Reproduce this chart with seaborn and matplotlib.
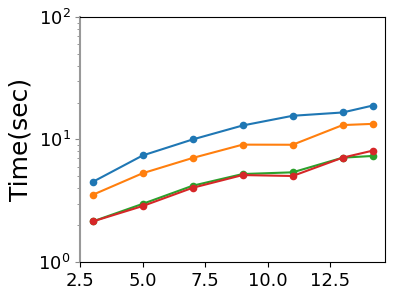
import pandas as pd
import numpy as np
import matplotlib
matplotlib.use('Agg')
import matplotlib.pyplot as plt
import seaborn as sns

# values (log scale)
x_vals = [3, 5, 7, 9, 11, 13, 14.2]
series_a = [4.5, 7.4, 10.0, 13.0, 15.6, 16.6, 18.9]
series_b = [3.53, 5.3, 7.06, 9.07, 9.05, 13.1, 13.4]
series_c = [2.14, 2.98, 4.19, 5.22, 5.39, 7.1, 7.33]
series_d = [2.14, 2.86, 4.03, 5.12, 5.03, 7.1, 8.1]
series_names = ['a', 'b', 'c', 'd']
colors = ['#1f77b4', '#ff7f0e', '#2ca02c', '#d62728']

df = pd.DataFrame({
    'x': x_vals * 4,
    'time': series_a + series_b + series_c + series_d,
    'series': np.repeat(series_names, len(x_vals)),
})

fig, ax = plt.subplots(figsize=(3.95, 2.97), dpi=100)
sns.lineplot(data=df, x='x', y='time', hue='series', palette=colors,
             marker='o', markersize=5.5, markeredgewidth=0, linewidth=1.5,
             legend=False, ax=ax)

ax.set_yscale('log')
ax.set_ylim(1, 100)
ax.set_xlim(2.5, 14.7)
ax.set_xticks([2.5, 5.0, 7.5, 10.0, 12.5])
ax.set_xlabel('')
ax.set_ylabel('Time(sec)', fontsize=18)
ax.tick_params(axis='both', labelsize=13)
ax.spines['left'].set_color('#999999')
ax.spines['left'].set_linewidth(1.5)
ax.tick_params(axis='y', which='both', color='#888888')

plt.subplots_adjust(left=0.203, right=0.975, top=0.943, bottom=0.118)
plt.savefig('out.png', dpi=100)
plt.close()
